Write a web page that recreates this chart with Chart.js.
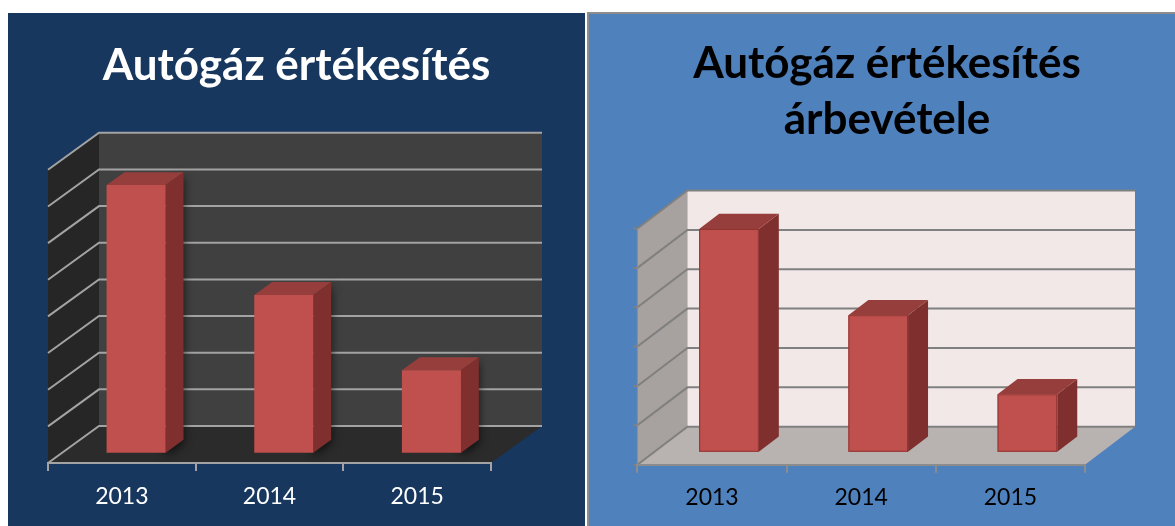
<!DOCTYPE html>
<html>
<head>
<meta charset="utf-8">
<script src="https://cdn.jsdelivr.net/npm/chart.js@4.4.1/dist/chart.umd.min.js"></script>
<style>
  html, body { margin: 0; padding: 0; background: #fff; }
  body { width: 1175px; height: 526px; position: relative; overflow: hidden; }
  #leftPanel { position: absolute; left: 8px; top: 13px; width: 577px; height: 513px; background: #17375e; }
  #rightPanel { position: absolute; left: 587px; top: 12px; width: 586px; height: 512px; background: #4f81bd;
    border-top: 2px solid #8c8c8c; border-left: 2px solid #8c8c8c; }
  canvas { display: block; }
</style>
</head>
<body>
<div id="leftPanel"><canvas id="salesChart" width="577" height="513"></canvas></div>
<div id="rightPanel"><canvas id="revenueChart" width="586" height="512"></canvas></div>
<script>
// chart data
const years = ['2013', '2014', '2015'];
const salesValues = [7.3, 4.3, 2.25];      // Autógáz értékesítés (grid units)
const revenueValues = [5.66, 3.47, 1.46];  // árbevétel (grid units)
const salesMax = 8;
const revenueMax = 6;
const salesTitle = 'Autógáz értékesítés';
const revenueTitle = ['Autógáz értékesítés', 'árbevétele'];

function poly(ctx, pts, fill) {
  ctx.beginPath();
  ctx.moveTo(pts[0][0], pts[0][1]);
  for (let i = 1; i < pts.length; i++) ctx.lineTo(pts[i][0], pts[i][1]);
  ctx.closePath();
  ctx.fillStyle = fill;
  ctx.fill();
}

// draws the walls, floor, gridlines and the 3d bars around Chart.js' own scales
const box3d = {
  id: 'box3d',
  beforeDraw(chart, args, o) {
    const ctx = chart.ctx, a = chart.chartArea, y = chart.scales.y;
    const dx = o.depthX, dy = o.depthY;
    ctx.save();
    poly(ctx, [[a.left, a.top], [a.left + dx, a.top - dy], [a.left + dx, a.bottom - dy], [a.left, a.bottom]], o.sideWall);
    poly(ctx, [[a.left, a.bottom], [a.right, a.bottom], [a.right + dx, a.bottom - dy], [a.left + dx, a.bottom - dy]], o.floor);
    ctx.fillStyle = o.backWall;
    ctx.fillRect(a.left + dx, a.top - dy, a.right - a.left, a.bottom - a.top);

    ctx.strokeStyle = o.gridColor;
    ctx.lineWidth = o.gridWidth;
    y.ticks.forEach(t => {
      const py = y.getPixelForValue(t.value);
      ctx.beginPath();
      ctx.moveTo(a.left - o.tickOut, py);
      ctx.lineTo(a.left, py);
      ctx.lineTo(a.left + dx, py - dy);
      ctx.lineTo(a.right + dx, py - dy);
      ctx.stroke();
    });
    if (o.edgeColor) {
      ctx.strokeStyle = o.edgeColor;
      ctx.lineWidth = 1;
      ctx.beginPath();
      ctx.moveTo(a.left, a.top);
      ctx.lineTo(a.left, a.bottom);
      ctx.stroke();
    }
    ctx.restore();
  },
  afterDatasetsDraw(chart, args, o) {
    const ctx = chart.ctx;
    const sx0 = o.front * o.depthX, sy0 = o.front * o.depthY;
    const sx1 = o.back * o.depthX, sy1 = o.back * o.depthY;
    chart.getDatasetMeta(0).data.forEach(bar => {
      const p = bar.getProps(['x', 'y', 'base', 'width']);
      const l = p.x - p.width / 2, r = p.x + p.width / 2;
      ctx.save();
      if (o.shadow) {
        ctx.shadowColor = o.shadow;
        ctx.shadowBlur = 10;
        ctx.shadowOffsetY = 3;
      }
      poly(ctx, [[r + sx0, p.y - sy0], [r + sx1, p.y - sy1], [r + sx1, p.base - sy1], [r + sx0, p.base - sy0]], o.barSide);
      ctx.shadowColor = 'transparent';
      poly(ctx, [[l + sx0, p.y - sy0], [r + sx0, p.y - sy0], [r + sx1, p.y - sy1], [l + sx1, p.y - sy1]], o.barTop);
      poly(ctx, [[l + sx0, p.y - sy0], [r + sx0, p.y - sy0], [r + sx0, p.base - sy0], [l + sx0, p.base - sy0]], o.barFront);
      if (o.barEdge) {
        ctx.strokeStyle = o.barEdge;
        ctx.lineWidth = 1;
        ctx.strokeRect(l + sx0 + 0.5, p.y - sy0 + 0.5, p.width - 1, p.base - p.y - 1);
      }
      ctx.restore();
    });
  }
};

function make3dBar(canvasId, values, maxValue, title, look) {
  new Chart(document.getElementById(canvasId), {
    type: 'bar',
    data: {
      labels: years,
      datasets: [{
        data: values,
        backgroundColor: 'rgba(0,0,0,0)',
        borderWidth: 0,
        categoryPercentage: 1,
        barPercentage: 0.4
      }]
    },
    options: {
      responsive: false,
      animation: false,
      layout: { padding: { left: look.padOuter, right: 0, top: 0, bottom: 0 } },
      plugins: {
        legend: { display: false },
        tooltip: { enabled: false },
        title: {
          display: true,
          text: title,
          color: look.titleColor,
          font: { family: 'Lato', size: 44, weight: 'bold', lineHeight: look.titleLine },
          padding: { top: look.titleTop, bottom: look.titleBottom }
        },
        box3d: look
      },
      scales: {
        x: {
          offset: true,
          grid: { display: true, offset: true, drawOnChartArea: false, drawTicks: true, tickLength: 8,
                  color: look.axisColor, lineWidth: 2 },
          border: { display: true, color: look.axisColor, width: 2 },
          ticks: { color: look.labelColor, font: { family: 'Lato', size: 23 }, padding: look.labelPad, maxRotation: 0 },
          afterFit: s => { s.height = look.axisHeight; }
        },
        y: {
          min: 0, max: maxValue,
          ticks: { display: false, stepSize: 1 },
          grid: { display: false },
          border: { display: false },
          afterFit: s => { s.width = look.padLeft; }
        },
        yPad: {
          type: 'linear',
          position: 'right',
          ticks: { display: false },
          grid: { display: false },
          border: { display: false },
          afterFit: s => { s.width = look.padRight; }
        }
      }
    },
    plugins: [box3d]
  });
}

make3dBar('salesChart', salesValues, salesMax, salesTitle, {
  padOuter: 0, padLeft: 40, padRight: 94, axisHeight: 63,
  titleColor: '#ffffff', titleLine: 1.2, titleTop: 26, titleBottom: 78,
  labelColor: '#ffffff', labelPad: 12, axisColor: '#a3a3a3',
  depthX: 51, depthY: 37, front: 0.28, back: 0.63,
  sideWall: '#262626', floor: '#2b2b2b', backWall: '#404040',
  gridColor: '#a3a3a3', gridWidth: 2, tickOut: 0, edgeColor: null,
  barFront: '#c0504d', barSide: '#7f302e', barTop: '#963e3b', barEdge: null,
  shadow: 'rgba(0,0,0,0.7)'
});

make3dBar('revenueChart', revenueValues, revenueMax, revenueTitle, {
  padOuter: 10, padLeft: 38.4, padRight: 90, axisHeight: 61.3,
  titleColor: '#000000', titleLine: 1.29, titleTop: 21, titleBottom: 80,
  labelColor: '#000000', labelPad: 11.5, axisColor: '#8c8c8c',
  depthX: 50, depthY: 38, front: 0.34, back: 0.74,
  sideWall: '#a7a19f', floor: '#b8b3b1', backWall: '#f2e8e8',
  gridColor: '#808080', gridWidth: 2, tickOut: 4, edgeColor: '#8c8c8c',
  barFront: '#c0504d', barSide: '#7f302e', barTop: '#963e3b', barEdge: '#8f3431',
  shadow: null
});
</script>
</body>
</html>
